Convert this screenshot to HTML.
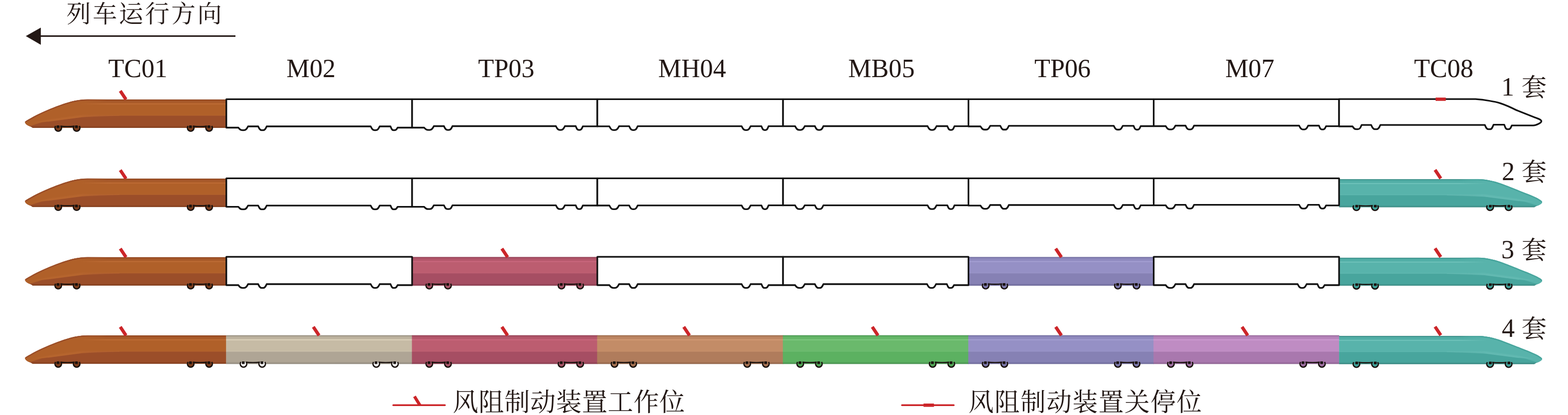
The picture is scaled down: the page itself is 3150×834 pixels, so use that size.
<!DOCTYPE html><html><head><meta charset="utf-8"><title>fig</title><style>html,body{margin:0;padding:0;background:#fff}svg{display:block}text{font-family:"Liberation Serif","Noto Serif CJK SC",serif;fill:#231815}</style></head><body>
<svg width="3150" height="834" viewBox="0 0 3150 834">
<defs><linearGradient id="gor" gradientUnits="userSpaceOnUse" x1="0" y1="0" x2="0" y2="57.8"><stop offset="0.0000" stop-color="#8e4119"/><stop offset="0.0173" stop-color="#8e4119"/><stop offset="0.0484" stop-color="#a35529"/><stop offset="0.1349" stop-color="#ac5d29"/><stop offset="0.1522" stop-color="#bf6d36"/><stop offset="0.1661" stop-color="#bf6d36"/><stop offset="0.1869" stop-color="#b06029"/><stop offset="0.5329" stop-color="#b06029"/><stop offset="0.5502" stop-color="#b4632c"/><stop offset="0.5606" stop-color="#b4632c"/><stop offset="0.5779" stop-color="#9b4e29"/><stop offset="0.9204" stop-color="#9b4e29"/><stop offset="1.0000" stop-color="#7e3c1c"/></linearGradient><linearGradient id="for" gradientUnits="userSpaceOnUse" x1="160" y1="0" x2="215" y2="0"><stop offset="0" stop-color="#b06029" stop-opacity="1"/><stop offset="1" stop-color="#b06029" stop-opacity="0"/></linearGradient><linearGradient id="eor" gradientUnits="userSpaceOnUse" x1="175" y1="0" x2="215" y2="0"><stop offset="0" stop-color="#9b4e29" stop-opacity="1"/><stop offset="1" stop-color="#9b4e29" stop-opacity="0"/></linearGradient><linearGradient id="gbe" gradientUnits="userSpaceOnUse" x1="0" y1="0" x2="0" y2="57.8"><stop offset="0.0000" stop-color="#979080"/><stop offset="0.0173" stop-color="#979080"/><stop offset="0.0484" stop-color="#b8ae9b"/><stop offset="0.1349" stop-color="#c2b7a2"/><stop offset="0.1522" stop-color="#ded4bc"/><stop offset="0.1661" stop-color="#ded4bc"/><stop offset="0.1869" stop-color="#c6bba5"/><stop offset="0.5329" stop-color="#c6bba5"/><stop offset="0.5502" stop-color="#ccc1ab"/><stop offset="0.5606" stop-color="#ccc1ab"/><stop offset="0.5779" stop-color="#afa595"/><stop offset="0.9204" stop-color="#afa595"/><stop offset="1.0000" stop-color="#8b8478"/></linearGradient><linearGradient id="gpk" gradientUnits="userSpaceOnUse" x1="0" y1="0" x2="0" y2="57.8"><stop offset="0.0000" stop-color="#964257"/><stop offset="0.0173" stop-color="#964257"/><stop offset="0.0484" stop-color="#af5468"/><stop offset="0.1349" stop-color="#b85a6e"/><stop offset="0.1522" stop-color="#cb687e"/><stop offset="0.1661" stop-color="#cb687e"/><stop offset="0.1869" stop-color="#bc5d70"/><stop offset="0.5329" stop-color="#bc5d70"/><stop offset="0.5502" stop-color="#c06073"/><stop offset="0.5606" stop-color="#c06073"/><stop offset="0.5779" stop-color="#a64e63"/><stop offset="0.9204" stop-color="#a64e63"/><stop offset="1.0000" stop-color="#863c4e"/></linearGradient><linearGradient id="gtn" gradientUnits="userSpaceOnUse" x1="0" y1="0" x2="0" y2="57.8"><stop offset="0.0000" stop-color="#9c6a4a"/><stop offset="0.0173" stop-color="#9c6a4a"/><stop offset="0.0484" stop-color="#b88260"/><stop offset="0.1349" stop-color="#c08965"/><stop offset="0.1522" stop-color="#d39b75"/><stop offset="0.1661" stop-color="#d39b75"/><stop offset="0.1869" stop-color="#c38c67"/><stop offset="0.5329" stop-color="#c38c67"/><stop offset="0.5502" stop-color="#c7906a"/><stop offset="0.5606" stop-color="#c7906a"/><stop offset="0.5779" stop-color="#b07c5c"/><stop offset="0.9204" stop-color="#b07c5c"/><stop offset="1.0000" stop-color="#8c6045"/></linearGradient><linearGradient id="ggr" gradientUnits="userSpaceOnUse" x1="0" y1="0" x2="0" y2="57.8"><stop offset="0.0000" stop-color="#4a9852"/><stop offset="0.0173" stop-color="#4a9852"/><stop offset="0.0484" stop-color="#62b465"/><stop offset="0.1349" stop-color="#68b86a"/><stop offset="0.1522" stop-color="#80ca81"/><stop offset="0.1661" stop-color="#80ca81"/><stop offset="0.1869" stop-color="#6ab96c"/><stop offset="0.5329" stop-color="#6ab96c"/><stop offset="0.5502" stop-color="#6fbd71"/><stop offset="0.5606" stop-color="#6fbd71"/><stop offset="0.5779" stop-color="#5cb161"/><stop offset="0.9204" stop-color="#5cb161"/><stop offset="1.0000" stop-color="#448c4c"/></linearGradient><linearGradient id="gpw" gradientUnits="userSpaceOnUse" x1="0" y1="0" x2="0" y2="57.8"><stop offset="0.0000" stop-color="#726ea0"/><stop offset="0.0173" stop-color="#726ea0"/><stop offset="0.0484" stop-color="#8c87bb"/><stop offset="0.1349" stop-color="#928dc2"/><stop offset="0.1522" stop-color="#a5a0d3"/><stop offset="0.1661" stop-color="#a5a0d3"/><stop offset="0.1869" stop-color="#9590c5"/><stop offset="0.5329" stop-color="#9590c5"/><stop offset="0.5502" stop-color="#9994c8"/><stop offset="0.5606" stop-color="#9994c8"/><stop offset="0.5779" stop-color="#8681b4"/><stop offset="0.9204" stop-color="#8681b4"/><stop offset="1.0000" stop-color="#6a6696"/></linearGradient><linearGradient id="goc" gradientUnits="userSpaceOnUse" x1="0" y1="0" x2="0" y2="57.8"><stop offset="0.0000" stop-color="#9a6c9e"/><stop offset="0.0173" stop-color="#9a6c9e"/><stop offset="0.0484" stop-color="#b280b6"/><stop offset="0.1349" stop-color="#bb88bf"/><stop offset="0.1522" stop-color="#cf9cd3"/><stop offset="0.1661" stop-color="#cf9cd3"/><stop offset="0.1869" stop-color="#bf8cc3"/><stop offset="0.5329" stop-color="#bf8cc3"/><stop offset="0.5502" stop-color="#c390c7"/><stop offset="0.5606" stop-color="#c390c7"/><stop offset="0.5779" stop-color="#a978ae"/><stop offset="0.9204" stop-color="#a978ae"/><stop offset="1.0000" stop-color="#8a5f8e"/></linearGradient><linearGradient id="gtl" gradientUnits="userSpaceOnUse" x1="0" y1="0" x2="0" y2="57.8"><stop offset="0.0000" stop-color="#3e8e88"/><stop offset="0.0173" stop-color="#3e8e88"/><stop offset="0.0484" stop-color="#4eaba3"/><stop offset="0.1349" stop-color="#55b1a9"/><stop offset="0.1522" stop-color="#70c3bb"/><stop offset="0.1661" stop-color="#70c3bb"/><stop offset="0.1869" stop-color="#58b3ab"/><stop offset="0.5329" stop-color="#58b3ab"/><stop offset="0.5502" stop-color="#5eb7af"/><stop offset="0.5606" stop-color="#5eb7af"/><stop offset="0.5779" stop-color="#48a59d"/><stop offset="0.9204" stop-color="#48a59d"/><stop offset="1.0000" stop-color="#3a867f"/></linearGradient><linearGradient id="ftl" gradientUnits="userSpaceOnUse" x1="160" y1="0" x2="215" y2="0"><stop offset="0" stop-color="#58b3ab" stop-opacity="1"/><stop offset="1" stop-color="#58b3ab" stop-opacity="0"/></linearGradient><linearGradient id="etl" gradientUnits="userSpaceOnUse" x1="175" y1="0" x2="215" y2="0"><stop offset="0" stop-color="#48a59d" stop-opacity="1"/><stop offset="1" stop-color="#48a59d" stop-opacity="0"/></linearGradient><g id="wor"><path d="M-5.3,-3.6 A6.5,6.5 0 1,0 5.3,-3.6" fill="#7c3e1e" stroke="#1a120e" stroke-width="2.8"/><rect x="-3.3" y="-4.8" width="5.6" height="5.2" rx="0.8" fill="#1a120e"/></g><g id="wbe"><path d="M-5.3,-3.6 A6.5,6.5 0 1,0 5.3,-3.6" fill="#f4f4f4" stroke="#1a120e" stroke-width="2.8"/><rect x="-3.3" y="-4.8" width="5.6" height="5.2" rx="0.8" fill="#1a120e"/></g><g id="wpk"><path d="M-5.3,-3.6 A6.5,6.5 0 1,0 5.3,-3.6" fill="#a85468" stroke="#1a120e" stroke-width="2.8"/><rect x="-3.3" y="-4.8" width="5.6" height="5.2" rx="0.8" fill="#1a120e"/></g><g id="wtn"><path d="M-5.3,-3.6 A6.5,6.5 0 1,0 5.3,-3.6" fill="#a87454" stroke="#1a120e" stroke-width="2.8"/><rect x="-3.3" y="-4.8" width="5.6" height="5.2" rx="0.8" fill="#1a120e"/></g><g id="wgr"><path d="M-5.3,-3.6 A6.5,6.5 0 1,0 5.3,-3.6" fill="#52a858" stroke="#1a120e" stroke-width="2.8"/><rect x="-3.3" y="-4.8" width="5.6" height="5.2" rx="0.8" fill="#1a120e"/></g><g id="wpw"><path d="M-5.3,-3.6 A6.5,6.5 0 1,0 5.3,-3.6" fill="#7c78aa" stroke="#1a120e" stroke-width="2.8"/><rect x="-3.3" y="-4.8" width="5.6" height="5.2" rx="0.8" fill="#1a120e"/></g><g id="woc"><path d="M-5.3,-3.6 A6.5,6.5 0 1,0 5.3,-3.6" fill="#a070a4" stroke="#1a120e" stroke-width="2.8"/><rect x="-3.3" y="-4.8" width="5.6" height="5.2" rx="0.8" fill="#1a120e"/></g><g id="wtl"><path d="M-5.3,-3.6 A6.5,6.5 0 1,0 5.3,-3.6" fill="#40a098" stroke="#1a120e" stroke-width="2.8"/><rect x="-3.3" y="-4.8" width="5.6" height="5.2" rx="0.8" fill="#1a120e"/></g><clipPath id="cor"><path d="M454.7,0 H176 C152,0.6 134,6.8 113,14.5 C95,21.2 75,30.5 62,38 C54,42.4 50,44.5 50.3,46.2 C50.6,49.5 55,52.8 62,55.2 L66,57.8 H454.7 Z"/></clipPath><clipPath id="ctl"><path d="M454.7,0 H178 C158,0.6 140,6 125.2,11.9 C108,18.5 88,27 72.9,33 C64,36.8 58,40 55.9,41.6 C52,44 50,45.5 50.2,47.5 C50.6,49.5 55,52.8 62,55.2 L66,57.8 H454.7 Z"/></clipPath></defs>
<rect width="3150" height="834" fill="#fff"/>
<text x="133.6" y="45.3" font-size="49" textLength="312" lengthAdjust="spacing" style="font-family:'Liberation Serif','Noto Serif CJK SC',serif">列车运行方向</text>
<path d="M81,72.5 H473" stroke="#231815" stroke-width="3.2"/><path d="M51.9,72.5 L82,55.6 V90 Z" fill="#231815"/>
<text x="277.0" y="154.9" font-size="52.2" text-anchor="middle">TC01</text>
<text x="624.9" y="154.9" font-size="52.2" text-anchor="middle">M02</text>
<text x="1017.1" y="154.9" font-size="52.2" text-anchor="middle">TP03</text>
<text x="1390.3999999999999" y="154.9" font-size="52.2" text-anchor="middle">MH04</text>
<text x="1770.8" y="154.9" font-size="52.2" text-anchor="middle">MB05</text>
<text x="2134.6" y="154.9" font-size="52.2" text-anchor="middle">TP06</text>
<text x="2510.7" y="154.9" font-size="52.2" text-anchor="middle">M07</text>
<text x="2900.2999999999997" y="154.9" font-size="52.2" text-anchor="middle">TC08</text>
<g transform="translate(0,199.5)"><g clip-path="url(#cor)"><rect x="40" y="0" width="415" height="57.8" fill="url(#gor)"/><path d="M40,-2 H215 V33.3 L165,36 L84,46.5 L58,54.5 L40,54.5 Z" fill="url(#for)"/><path d="M235,32.9 L165,31 L100,40 L62,47.5 L96,44.8 L165,35.4 Z" fill="#c4713a" fill-opacity="0.25"/><path d="M240,32.6 L165,35.2 L96,44.5" stroke="#c4713a" stroke-opacity="0.3" stroke-width="1.4" fill="none"/><path d="M215,0 H176 C152,0.6 134,6.8 113,14.5 C95,21.2 75,30.5 62,38 C54,42.4 50,44.5 50.3,46.2" stroke="url(#eor)" stroke-width="5" fill="none"/></g><path d="M121,54.0 Q135.5,55.8 150,54.0" stroke="#1a120e" stroke-width="2.4" fill="none"/><use href="#wor" x="117" y="57.4"/><use href="#wor" x="154" y="57.4"/><path d="M387.1,54.0 Q401.6,55.8 416.1,54.0" stroke="#1a120e" stroke-width="2.4" fill="none"/><use href="#wor" x="383.1" y="57.4"/><use href="#wor" x="420.1" y="57.4"/><path d="M454.7,-0.2 H827.9 V57 L798.7,57 C797.0,60.1 795.9,62.1 793.0,62.1 H790.2 C787.3,62.1 786.2,59.1 784.5,54.5 L762.7,54.5 C760.5,59.1 759.1,62.1 755.5,62.1 H751.9 C748.3,62.1 746.9,59.1 744.7,54.5 L535.7,54.5 C533.7,59.1 532.3,62.1 528.9,62.1 H525.5 C522.1,62.1 520.7,59.1 518.7,54.5 L498.3,54.5 C496.0,59.1 494.4,62.1 490.5,62.1 H486.7 C482.8,62.1 481.2,60.1 478.9,57 H454.7 Z" fill="#fff" stroke="#111" stroke-width="3.3" stroke-linejoin="round"/><path d="M827.9,-0.2 H1200.0 V54.4 L1170.8,54.4 C1169.1,58.7 1168.0,61.6 1165.1,61.6 H1162.3 C1159.4,61.6 1158.3,58.6 1156.6,54 L1134.8,54 C1132.6,58.6 1131.2,61.6 1127.6,61.6 H1124.0 C1120.4,61.6 1119.0,58.6 1116.8,54 L908.9,54 C906.9,58.6 905.5,61.6 902.1,61.6 H898.7 C895.3,61.6 893.9,58.6 891.9,54 L871.5,54 C869.2,58.6 867.6,61.6 863.7,61.6 H859.9 C856.0,61.6 854.4,59.8 852.1,57 H827.9 Z" fill="#fff" stroke="#111" stroke-width="3.3" stroke-linejoin="round"/><path d="M1200.0,-0.2 H1573.1 V54.1 L1543.9,54.1 C1542.2,58.7 1541.1,61.800000000000004 1538.2,61.800000000000004 H1535.4 C1532.5,61.800000000000004 1531.4,58.8 1529.7,54.2 L1507.9,54.2 C1505.7,58.8 1504.3,61.800000000000004 1500.7,61.800000000000004 H1497.1 C1493.5,61.800000000000004 1492.1,58.8 1489.9,54.2 L1281.0,54.2 C1279.0,58.8 1277.6,61.800000000000004 1274.2,61.800000000000004 H1270.8 C1267.4,61.800000000000004 1266.0,58.8 1264.0,54.2 L1243.6,54.2 C1241.3,58.8 1239.7,61.800000000000004 1235.8,61.800000000000004 H1232.0 C1228.1,61.800000000000004 1226.5,58.8 1224.2,54.4 H1200.0 Z" fill="#fff" stroke="#111" stroke-width="3.3" stroke-linejoin="round"/><path d="M1573.1,-0.2 H1945.6 V54.1 L1917.4,54.1 C1915.7,58.6 1914.6,61.6 1911.7,61.6 H1908.9 C1906.0,61.6 1904.9,58.6 1903.2,54 L1881.4,54 C1879.2,58.6 1877.8,61.6 1874.2,61.6 H1870.6 C1867.0,61.6 1865.6,58.6 1863.4,54 L1654.1,54 C1652.1,58.6 1650.7,61.6 1647.3,61.6 H1643.9 C1640.5,61.6 1639.1,58.6 1637.1,54 L1616.7,54 C1614.4,58.6 1612.8,61.6 1608.9,61.6 H1605.1 C1601.2,61.6 1599.6,58.6 1597.3,54.1 H1573.1 Z" fill="#fff" stroke="#111" stroke-width="3.3" stroke-linejoin="round"/><path d="M1945.6,-0.2 H2317.7 V54 L2291.5,54 C2289.8,58.2 2288.7,61.0 2285.8,61.0 H2283.0 C2280.1,61.0 2279.0,58.0 2277.3,53.4 L2255.5,53.4 C2253.3,58.0 2251.9,61.0 2248.3,61.0 H2244.7 C2241.1,61.0 2239.7,58.0 2237.5,53.4 L2026.6,53.4 C2024.6,58.0 2023.2,61.0 2019.8,61.0 H2016.4 C2013.0,61.0 2011.6,58.0 2009.6,53.4 L1989.2,53.4 C1986.9,58.0 1985.3,61.0 1981.4,61.0 H1977.6 C1973.7,61.0 1972.1,58.4 1969.8,54.5 H1945.6 Z" fill="#fff" stroke="#111" stroke-width="3.3" stroke-linejoin="round"/><path d="M2317.7,-0.2 H2690.1 V54.2 L2663.9,54.2 C2662.2,58.0 2661.1,60.6 2658.2,60.6 H2655.4 C2652.5,60.6 2651.4,57.6 2649.7,53 L2627.9,53 C2625.7,57.6 2624.3,60.6 2620.7,60.6 H2617.1 C2613.5,60.6 2612.1,57.6 2609.9,53 L2398.7,53 C2396.7,57.6 2395.3,60.6 2391.9,60.6 H2388.5 C2385.1,60.6 2383.7,57.6 2381.7,53 L2361.3,53 C2359.0,57.6 2357.4,60.6 2353.5,60.6 H2349.7 C2345.8,60.6 2344.2,58.0 2341.9,54 H2317.7 Z" fill="#fff" stroke="#111" stroke-width="3.3" stroke-linejoin="round"/><path d="M2690.1,-0.3 H2964.2 C2976,0.4 2984,1.6 2991.6,3 C3000,4.4 3007,5.8 3013.6,7.8 C3025,11.5 3036,16.6 3046.6,21.9 L3083.3,36.5 C3088,38.3 3090.5,39 3092.4,39.9 C3095.5,41.4 3096.8,42.6 3096.5,44.4 C3096,46.8 3093.5,48.2 3090.6,49.6 C3087,51.3 3084,52.7 3080,52.7 L3037.0,52.7 C3035.2,57.2 3034.0,60.2 3031.0,60.2 H3028.0 C3025.0,60.2 3023.8,56.6 3022.0,51.2 L3000.4,51.2 C2998.3,56.6 2996.9,60.2 2993.4,60.2 H2990.0 C2986.5,60.2 2985.1,56.8 2983.0,51.6 L2773.0,51.6 C2770.8,56.8 2769.3,60.2 2765.6,60.2 H2762.0 C2758.3,60.2 2756.8,56.8 2754.6,51.6 L2735.4,51.6 C2733.2,56.8 2731.8,60.2 2728.1,60.2 H2724.5 C2720.8,60.2 2719.4,57.9 2717.2,54.5 H2690.1 Z" fill="#fff" stroke="#111" stroke-width="3.3" stroke-linejoin="round"/><g transform="translate(0,0)"><path d="M241.6,-16.8 L253.1,0.4" stroke="#cc2529" stroke-width="6.6"/></g></g>
<g transform="translate(0,358.6)"><g clip-path="url(#cor)"><rect x="40" y="0" width="415" height="57.8" fill="url(#gor)"/><path d="M40,-2 H215 V33.3 L165,36 L84,46.5 L58,54.5 L40,54.5 Z" fill="url(#for)"/><path d="M235,32.9 L165,31 L100,40 L62,47.5 L96,44.8 L165,35.4 Z" fill="#c4713a" fill-opacity="0.25"/><path d="M240,32.6 L165,35.2 L96,44.5" stroke="#c4713a" stroke-opacity="0.3" stroke-width="1.4" fill="none"/><path d="M215,0 H176 C152,0.6 134,6.8 113,14.5 C95,21.2 75,30.5 62,38 C54,42.4 50,44.5 50.3,46.2" stroke="url(#eor)" stroke-width="5" fill="none"/></g><path d="M121,54.0 Q135.5,55.8 150,54.0" stroke="#1a120e" stroke-width="2.4" fill="none"/><use href="#wor" x="117" y="57.4"/><use href="#wor" x="154" y="57.4"/><path d="M387.1,54.0 Q401.6,55.8 416.1,54.0" stroke="#1a120e" stroke-width="2.4" fill="none"/><use href="#wor" x="383.1" y="57.4"/><use href="#wor" x="420.1" y="57.4"/><g transform="translate(3148.74,1.2) scale(-1.00865,0.986)"><g clip-path="url(#ctl)"><rect x="40" y="0" width="415" height="57.8" fill="url(#gtl)"/><path d="M40,-2 H215 V33.3 L165,36 L84,46.5 L58,54.5 L40,54.5 Z" fill="url(#ftl)"/><path d="M235,32.9 L165,31 L100,40 L62,47.5 L96,44.8 L165,35.4 Z" fill="#78c8c0" fill-opacity="0.25"/><path d="M240,32.6 L165,35.2 L96,44.5" stroke="#78c8c0" stroke-opacity="0.3" stroke-width="1.4" fill="none"/><path d="M215,0 H178 C158,0.6 140,6 125.2,11.9 C108,18.5 88,27 72.9,33 C64,36.8 58,40 55.9,41.6 C52,44 50,45.5 50.2,47.5" stroke="url(#etl)" stroke-width="5" fill="none"/></g><path d="M121,54.0 Q135.5,55.8 150,54.0" stroke="#1a120e" stroke-width="2.4" fill="none"/><use href="#wtl" x="117" y="57.4"/><use href="#wtl" x="154" y="57.4"/><path d="M387.1,54.0 Q401.6,55.8 416.1,54.0" stroke="#1a120e" stroke-width="2.4" fill="none"/><use href="#wtl" x="383.1" y="57.4"/><use href="#wtl" x="420.1" y="57.4"/></g><path d="M454.7,-0.2 H827.9 V57 L798.7,57 C797.0,60.1 795.9,62.1 793.0,62.1 H790.2 C787.3,62.1 786.2,59.1 784.5,54.5 L762.7,54.5 C760.5,59.1 759.1,62.1 755.5,62.1 H751.9 C748.3,62.1 746.9,59.1 744.7,54.5 L535.7,54.5 C533.7,59.1 532.3,62.1 528.9,62.1 H525.5 C522.1,62.1 520.7,59.1 518.7,54.5 L498.3,54.5 C496.0,59.1 494.4,62.1 490.5,62.1 H486.7 C482.8,62.1 481.2,60.1 478.9,57 H454.7 Z" fill="#fff" stroke="#111" stroke-width="3.3" stroke-linejoin="round"/><path d="M827.9,-0.2 H1200.0 V54.4 L1170.8,54.4 C1169.1,58.7 1168.0,61.6 1165.1,61.6 H1162.3 C1159.4,61.6 1158.3,58.6 1156.6,54 L1134.8,54 C1132.6,58.6 1131.2,61.6 1127.6,61.6 H1124.0 C1120.4,61.6 1119.0,58.6 1116.8,54 L908.9,54 C906.9,58.6 905.5,61.6 902.1,61.6 H898.7 C895.3,61.6 893.9,58.6 891.9,54 L871.5,54 C869.2,58.6 867.6,61.6 863.7,61.6 H859.9 C856.0,61.6 854.4,59.8 852.1,57 H827.9 Z" fill="#fff" stroke="#111" stroke-width="3.3" stroke-linejoin="round"/><path d="M1200.0,-0.2 H1573.1 V54.1 L1543.9,54.1 C1542.2,58.7 1541.1,61.800000000000004 1538.2,61.800000000000004 H1535.4 C1532.5,61.800000000000004 1531.4,58.8 1529.7,54.2 L1507.9,54.2 C1505.7,58.8 1504.3,61.800000000000004 1500.7,61.800000000000004 H1497.1 C1493.5,61.800000000000004 1492.1,58.8 1489.9,54.2 L1281.0,54.2 C1279.0,58.8 1277.6,61.800000000000004 1274.2,61.800000000000004 H1270.8 C1267.4,61.800000000000004 1266.0,58.8 1264.0,54.2 L1243.6,54.2 C1241.3,58.8 1239.7,61.800000000000004 1235.8,61.800000000000004 H1232.0 C1228.1,61.800000000000004 1226.5,58.8 1224.2,54.4 H1200.0 Z" fill="#fff" stroke="#111" stroke-width="3.3" stroke-linejoin="round"/><path d="M1573.1,-0.2 H1945.6 V54.1 L1917.4,54.1 C1915.7,58.6 1914.6,61.6 1911.7,61.6 H1908.9 C1906.0,61.6 1904.9,58.6 1903.2,54 L1881.4,54 C1879.2,58.6 1877.8,61.6 1874.2,61.6 H1870.6 C1867.0,61.6 1865.6,58.6 1863.4,54 L1654.1,54 C1652.1,58.6 1650.7,61.6 1647.3,61.6 H1643.9 C1640.5,61.6 1639.1,58.6 1637.1,54 L1616.7,54 C1614.4,58.6 1612.8,61.6 1608.9,61.6 H1605.1 C1601.2,61.6 1599.6,58.6 1597.3,54.1 H1573.1 Z" fill="#fff" stroke="#111" stroke-width="3.3" stroke-linejoin="round"/><path d="M1945.6,-0.2 H2317.7 V54 L2291.5,54 C2289.8,58.2 2288.7,61.0 2285.8,61.0 H2283.0 C2280.1,61.0 2279.0,58.0 2277.3,53.4 L2255.5,53.4 C2253.3,58.0 2251.9,61.0 2248.3,61.0 H2244.7 C2241.1,61.0 2239.7,58.0 2237.5,53.4 L2026.6,53.4 C2024.6,58.0 2023.2,61.0 2019.8,61.0 H2016.4 C2013.0,61.0 2011.6,58.0 2009.6,53.4 L1989.2,53.4 C1986.9,58.0 1985.3,61.0 1981.4,61.0 H1977.6 C1973.7,61.0 1972.1,58.4 1969.8,54.5 H1945.6 Z" fill="#fff" stroke="#111" stroke-width="3.3" stroke-linejoin="round"/><path d="M2317.7,-0.2 H2690.1 V54.2 L2663.9,54.2 C2662.2,58.0 2661.1,60.6 2658.2,60.6 H2655.4 C2652.5,60.6 2651.4,57.6 2649.7,53 L2627.9,53 C2625.7,57.6 2624.3,60.6 2620.7,60.6 H2617.1 C2613.5,60.6 2612.1,57.6 2609.9,53 L2398.7,53 C2396.7,57.6 2395.3,60.6 2391.9,60.6 H2388.5 C2385.1,60.6 2383.7,57.6 2381.7,53 L2361.3,53 C2359.0,57.6 2357.4,60.6 2353.5,60.6 H2349.7 C2345.8,60.6 2344.2,58.0 2341.9,54 H2317.7 Z" fill="#fff" stroke="#111" stroke-width="3.3" stroke-linejoin="round"/><g transform="translate(0,0)"><path d="M241.6,-16.8 L253.1,0.4" stroke="#cc2529" stroke-width="6.6"/></g><g transform="translate(0,-0.4)"><path d="M2882.9,-16.8 L2894.4,0.4" stroke="#cc2529" stroke-width="6.6"/></g></g>
<g transform="translate(0,516.4)"><g clip-path="url(#cor)"><rect x="40" y="0" width="415" height="57.8" fill="url(#gor)"/><path d="M40,-2 H215 V33.3 L165,36 L84,46.5 L58,54.5 L40,54.5 Z" fill="url(#for)"/><path d="M235,32.9 L165,31 L100,40 L62,47.5 L96,44.8 L165,35.4 Z" fill="#c4713a" fill-opacity="0.25"/><path d="M240,32.6 L165,35.2 L96,44.5" stroke="#c4713a" stroke-opacity="0.3" stroke-width="1.4" fill="none"/><path d="M215,0 H176 C152,0.6 134,6.8 113,14.5 C95,21.2 75,30.5 62,38 C54,42.4 50,44.5 50.3,46.2" stroke="url(#eor)" stroke-width="5" fill="none"/></g><path d="M121,54.0 Q135.5,55.8 150,54.0" stroke="#1a120e" stroke-width="2.4" fill="none"/><use href="#wor" x="117" y="57.4"/><use href="#wor" x="154" y="57.4"/><path d="M387.1,54.0 Q401.6,55.8 416.1,54.0" stroke="#1a120e" stroke-width="2.4" fill="none"/><use href="#wor" x="383.1" y="57.4"/><use href="#wor" x="420.1" y="57.4"/><rect x="827.5" y="0" width="372.9" height="57.8" fill="url(#gpk)"/><path d="M866.4,54.0 Q881.15,55.8 895.9,54.0" stroke="#1a120e" stroke-width="2.4" fill="none"/><use href="#wpk" x="862.4" y="57.4"/><use href="#wpk" x="899.9" y="57.4"/><path d="M1132.0,54.0 Q1146.75,55.8 1161.5,54.0" stroke="#1a120e" stroke-width="2.4" fill="none"/><use href="#wpk" x="1128.0" y="57.4"/><use href="#wpk" x="1165.5" y="57.4"/><rect x="1945.2" y="0" width="372.9" height="57.8" fill="url(#gpw)"/><path d="M1984.1,54.0 Q1998.85,55.8 2013.6,54.0" stroke="#1a120e" stroke-width="2.4" fill="none"/><use href="#wpw" x="1980.1" y="57.4"/><use href="#wpw" x="2017.6" y="57.4"/><path d="M2249.7,54.0 Q2264.45,55.8 2279.2,54.0" stroke="#1a120e" stroke-width="2.4" fill="none"/><use href="#wpw" x="2245.7" y="57.4"/><use href="#wpw" x="2283.2" y="57.4"/><g transform="translate(3148.74,1.2) scale(-1.00865,0.986)"><g clip-path="url(#ctl)"><rect x="40" y="0" width="415" height="57.8" fill="url(#gtl)"/><path d="M40,-2 H215 V33.3 L165,36 L84,46.5 L58,54.5 L40,54.5 Z" fill="url(#ftl)"/><path d="M235,32.9 L165,31 L100,40 L62,47.5 L96,44.8 L165,35.4 Z" fill="#78c8c0" fill-opacity="0.25"/><path d="M240,32.6 L165,35.2 L96,44.5" stroke="#78c8c0" stroke-opacity="0.3" stroke-width="1.4" fill="none"/><path d="M215,0 H178 C158,0.6 140,6 125.2,11.9 C108,18.5 88,27 72.9,33 C64,36.8 58,40 55.9,41.6 C52,44 50,45.5 50.2,47.5" stroke="url(#etl)" stroke-width="5" fill="none"/></g><path d="M121,54.0 Q135.5,55.8 150,54.0" stroke="#1a120e" stroke-width="2.4" fill="none"/><use href="#wtl" x="117" y="57.4"/><use href="#wtl" x="154" y="57.4"/><path d="M387.1,54.0 Q401.6,55.8 416.1,54.0" stroke="#1a120e" stroke-width="2.4" fill="none"/><use href="#wtl" x="383.1" y="57.4"/><use href="#wtl" x="420.1" y="57.4"/></g><path d="M454.7,-0.2 H827.9 V56.6 L798.7,56.6 C797.0,60.0 795.9,62.2 793.0,62.2 H790.2 C787.3,62.2 786.2,59.2 784.5,54.6 L762.7,54.6 C760.5,59.2 759.1,62.2 755.5,62.2 H751.9 C748.3,62.2 746.9,59.2 744.7,54.6 L535.7,54.6 C533.7,59.2 532.3,62.2 528.9,62.2 H525.5 C522.1,62.2 520.7,59.2 518.7,54.6 L498.3,54.6 C496.0,59.2 494.4,62.2 490.5,62.2 H486.7 C482.8,62.2 481.2,60.0 478.9,56.6 H454.7 Z" fill="#fff" stroke="#111" stroke-width="3.3" stroke-linejoin="round"/><path d="M1200.0,-0.2 H1573.1 V56.6 L1543.9,56.6 C1542.2,60.0 1541.1,62.2 1538.2,62.2 H1535.4 C1532.5,62.2 1531.4,59.2 1529.7,54.6 L1507.9,54.6 C1505.7,59.2 1504.3,62.2 1500.7,62.2 H1497.1 C1493.5,62.2 1492.1,59.2 1489.9,54.6 L1281.0,54.6 C1279.0,59.2 1277.6,62.2 1274.2,62.2 H1270.8 C1267.4,62.2 1266.0,59.2 1264.0,54.6 L1243.6,54.6 C1241.3,59.2 1239.7,62.2 1235.8,62.2 H1232.0 C1228.1,62.2 1226.5,60.0 1224.2,56.6 H1200.0 Z" fill="#fff" stroke="#111" stroke-width="3.3" stroke-linejoin="round"/><path d="M1573.1,-0.2 H1945.6 V56.6 L1916.4,56.6 C1914.7,60.0 1913.6,62.2 1910.7,62.2 H1907.9 C1905.0,62.2 1903.9,59.2 1902.2,54.6 L1880.4,54.6 C1878.2,59.2 1876.8,62.2 1873.2,62.2 H1869.6 C1866.0,62.2 1864.6,59.2 1862.4,54.6 L1654.1,54.6 C1652.1,59.2 1650.7,62.2 1647.3,62.2 H1643.9 C1640.5,62.2 1639.1,59.2 1637.1,54.6 L1616.7,54.6 C1614.4,59.2 1612.8,62.2 1608.9,62.2 H1605.1 C1601.2,62.2 1599.6,60.0 1597.3,56.6 H1573.1 Z" fill="#fff" stroke="#111" stroke-width="3.3" stroke-linejoin="round"/><path d="M2317.7,-0.2 H2690.1 V56.6 L2660.9,56.6 C2659.2,60.0 2658.1,62.2 2655.2,62.2 H2652.4 C2649.5,62.2 2648.4,59.2 2646.7,54.6 L2624.9,54.6 C2622.7,59.2 2621.3,62.2 2617.7,62.2 H2614.1 C2610.5,62.2 2609.1,59.2 2606.9,54.6 L2398.7,54.6 C2396.7,59.2 2395.3,62.2 2391.9,62.2 H2388.5 C2385.1,62.2 2383.7,59.2 2381.7,54.6 L2361.3,54.6 C2359.0,59.2 2357.4,62.2 2353.5,62.2 H2349.7 C2345.8,62.2 2344.2,60.0 2341.9,56.6 H2317.7 Z" fill="#fff" stroke="#111" stroke-width="3.3" stroke-linejoin="round"/><g transform="translate(0,0)"><path d="M241.6,-16.8 L253.1,0.4" stroke="#cc2529" stroke-width="6.6"/></g><g transform="translate(0,0)"><path d="M1008.2,-16.8 L1019.7,0.4" stroke="#cc2529" stroke-width="6.6"/></g><g transform="translate(0,0)"><path d="M2120.8,-16.8 L2132.3,0.4" stroke="#cc2529" stroke-width="6.6"/></g><g transform="translate(0,-0.4)"><path d="M2882.9,-16.8 L2894.4,0.4" stroke="#cc2529" stroke-width="6.6"/></g></g>
<g transform="translate(0,673.7)"><g clip-path="url(#cor)"><rect x="40" y="0" width="415" height="57.8" fill="url(#gor)"/><path d="M40,-2 H215 V33.3 L165,36 L84,46.5 L58,54.5 L40,54.5 Z" fill="url(#for)"/><path d="M235,32.9 L165,31 L100,40 L62,47.5 L96,44.8 L165,35.4 Z" fill="#c4713a" fill-opacity="0.25"/><path d="M240,32.6 L165,35.2 L96,44.5" stroke="#c4713a" stroke-opacity="0.3" stroke-width="1.4" fill="none"/><path d="M215,0 H176 C152,0.6 134,6.8 113,14.5 C95,21.2 75,30.5 62,38 C54,42.4 50,44.5 50.3,46.2" stroke="url(#eor)" stroke-width="5" fill="none"/></g><path d="M121,54.0 Q135.5,55.8 150,54.0" stroke="#1a120e" stroke-width="2.4" fill="none"/><use href="#wor" x="117" y="57.4"/><use href="#wor" x="154" y="57.4"/><path d="M387.1,54.0 Q401.6,55.8 416.1,54.0" stroke="#1a120e" stroke-width="2.4" fill="none"/><use href="#wor" x="383.1" y="57.4"/><use href="#wor" x="420.1" y="57.4"/><rect x="454.3" y="0" width="374.0" height="57.8" fill="url(#gbe)"/><path d="M493.2,54.0 Q507.95000000000005,55.8 522.7,54.0" stroke="#1a120e" stroke-width="2.4" fill="none"/><use href="#wbe" x="489.2" y="57.4"/><use href="#wbe" x="526.7" y="57.4"/><path d="M759.9,54.0 Q774.65,55.8 789.4,54.0" stroke="#1a120e" stroke-width="2.4" fill="none"/><use href="#wbe" x="755.9" y="57.4"/><use href="#wbe" x="793.4" y="57.4"/><rect x="827.5" y="0" width="372.9" height="57.8" fill="url(#gpk)"/><path d="M866.4,54.0 Q881.15,55.8 895.9,54.0" stroke="#1a120e" stroke-width="2.4" fill="none"/><use href="#wpk" x="862.4" y="57.4"/><use href="#wpk" x="899.9" y="57.4"/><path d="M1132.0,54.0 Q1146.75,55.8 1161.5,54.0" stroke="#1a120e" stroke-width="2.4" fill="none"/><use href="#wpk" x="1128.0" y="57.4"/><use href="#wpk" x="1165.5" y="57.4"/><rect x="1199.6" y="0" width="373.9" height="57.8" fill="url(#gtn)"/><path d="M1238.5,54.0 Q1253.25,55.8 1268.0,54.0" stroke="#1a120e" stroke-width="2.4" fill="none"/><use href="#wtn" x="1234.5" y="57.4"/><use href="#wtn" x="1272.0" y="57.4"/><path d="M1505.1,54.0 Q1519.85,55.8 1534.6,54.0" stroke="#1a120e" stroke-width="2.4" fill="none"/><use href="#wtn" x="1501.1" y="57.4"/><use href="#wtn" x="1538.6" y="57.4"/><rect x="1572.7" y="0" width="373.3" height="57.8" fill="url(#ggr)"/><path d="M1611.6,54.0 Q1626.35,55.8 1641.1,54.0" stroke="#1a120e" stroke-width="2.4" fill="none"/><use href="#wgr" x="1607.6" y="57.4"/><use href="#wgr" x="1645.1" y="57.4"/><path d="M1877.6,54.0 Q1892.35,55.8 1907.1,54.0" stroke="#1a120e" stroke-width="2.4" fill="none"/><use href="#wgr" x="1873.6" y="57.4"/><use href="#wgr" x="1911.1" y="57.4"/><rect x="1945.2" y="0" width="372.9" height="57.8" fill="url(#gpw)"/><path d="M1984.1,54.0 Q1998.85,55.8 2013.6,54.0" stroke="#1a120e" stroke-width="2.4" fill="none"/><use href="#wpw" x="1980.1" y="57.4"/><use href="#wpw" x="2017.6" y="57.4"/><path d="M2249.7,54.0 Q2264.45,55.8 2279.2,54.0" stroke="#1a120e" stroke-width="2.4" fill="none"/><use href="#wpw" x="2245.7" y="57.4"/><use href="#wpw" x="2283.2" y="57.4"/><rect x="2317.3" y="0" width="373.2" height="57.8" fill="url(#goc)"/><path d="M2356.2,54.0 Q2370.95,55.8 2385.7,54.0" stroke="#1a120e" stroke-width="2.4" fill="none"/><use href="#woc" x="2352.2" y="57.4"/><use href="#woc" x="2389.7" y="57.4"/><path d="M2622.1,54.0 Q2636.85,55.8 2651.6,54.0" stroke="#1a120e" stroke-width="2.4" fill="none"/><use href="#woc" x="2618.1" y="57.4"/><use href="#woc" x="2655.6" y="57.4"/><g transform="translate(3148.74,1.2) scale(-1.00865,0.986)"><g clip-path="url(#ctl)"><rect x="40" y="0" width="415" height="57.8" fill="url(#gtl)"/><path d="M40,-2 H215 V33.3 L165,36 L84,46.5 L58,54.5 L40,54.5 Z" fill="url(#ftl)"/><path d="M235,32.9 L165,31 L100,40 L62,47.5 L96,44.8 L165,35.4 Z" fill="#78c8c0" fill-opacity="0.25"/><path d="M240,32.6 L165,35.2 L96,44.5" stroke="#78c8c0" stroke-opacity="0.3" stroke-width="1.4" fill="none"/><path d="M215,0 H178 C158,0.6 140,6 125.2,11.9 C108,18.5 88,27 72.9,33 C64,36.8 58,40 55.9,41.6 C52,44 50,45.5 50.2,47.5" stroke="url(#etl)" stroke-width="5" fill="none"/></g><path d="M121,54.0 Q135.5,55.8 150,54.0" stroke="#1a120e" stroke-width="2.4" fill="none"/><use href="#wtl" x="117" y="57.4"/><use href="#wtl" x="154" y="57.4"/><path d="M387.1,54.0 Q401.6,55.8 416.1,54.0" stroke="#1a120e" stroke-width="2.4" fill="none"/><use href="#wtl" x="383.1" y="57.4"/><use href="#wtl" x="420.1" y="57.4"/></g><g transform="translate(0,0)"><path d="M241.6,-16.8 L253.1,0.4" stroke="#cc2529" stroke-width="6.6"/></g><g transform="translate(0,0)"><path d="M629.4,-16.8 L640.9,0.4" stroke="#cc2529" stroke-width="6.6"/></g><g transform="translate(0,0)"><path d="M1008.2,-16.8 L1019.7,0.4" stroke="#cc2529" stroke-width="6.6"/></g><g transform="translate(0,0)"><path d="M1373.6,-16.8 L1385.1,0.4" stroke="#cc2529" stroke-width="6.6"/></g><g transform="translate(0,0)"><path d="M1752.3,-16.8 L1763.8,0.4" stroke="#cc2529" stroke-width="6.6"/></g><g transform="translate(0,0)"><path d="M2120.8,-16.8 L2132.3,0.4" stroke="#cc2529" stroke-width="6.6"/></g><g transform="translate(0,0)"><path d="M2495.1,-16.8 L2506.6,0.4" stroke="#cc2529" stroke-width="6.6"/></g><g transform="translate(0,-0.4)"><path d="M2882.9,-16.8 L2894.4,0.4" stroke="#cc2529" stroke-width="6.6"/></g></g>
<rect x="2884" y="196.1" width="20.5" height="6.6" fill="#cc2529"/>
<text x="3029" y="191.8" font-size="52" text-anchor="middle">1</text>
<text x="3056.7" y="192.8" font-size="50.3" style="font-family:'Liberation Serif','Noto Serif CJK SC',serif">套</text>
<text x="3030" y="361.8" font-size="52" text-anchor="middle">2</text>
<text x="3056.7" y="362.7" font-size="50.3" style="font-family:'Liberation Serif','Noto Serif CJK SC',serif">套</text>
<text x="3029" y="518.9" font-size="52" text-anchor="middle">3</text>
<text x="3056.7" y="519.7" font-size="50.3" style="font-family:'Liberation Serif','Noto Serif CJK SC',serif">套</text>
<text x="3030" y="676.8" font-size="52" text-anchor="middle">4</text>
<text x="3056.7" y="677.6" font-size="50.3" style="font-family:'Liberation Serif','Noto Serif CJK SC',serif">套</text>
<path d="M790,814.3 H893.8" stroke="#cc2529" stroke-width="3.4" stroke-linecap="round"/><path d="M832.6,796.6 L843.6,814.3" stroke="#cc2529" stroke-width="6.2"/>
<text x="909.4" y="826.3" font-size="51.3" textLength="466.5" lengthAdjust="spacing" style="font-family:'Liberation Serif','Noto Serif CJK SC',serif">风阻制动装置工作位</text>
<path d="M1812,814.3 H1916" stroke="#cc2529" stroke-width="3.4" stroke-linecap="round"/><rect x="1855.3" y="811" width="21" height="6.6" fill="#cc2529"/>
<text x="1945.4" y="826.4" font-size="50.8" textLength="469" lengthAdjust="spacing" style="font-family:'Liberation Serif','Noto Serif CJK SC',serif">风阻制动装置关停位</text>
</svg></body></html>
